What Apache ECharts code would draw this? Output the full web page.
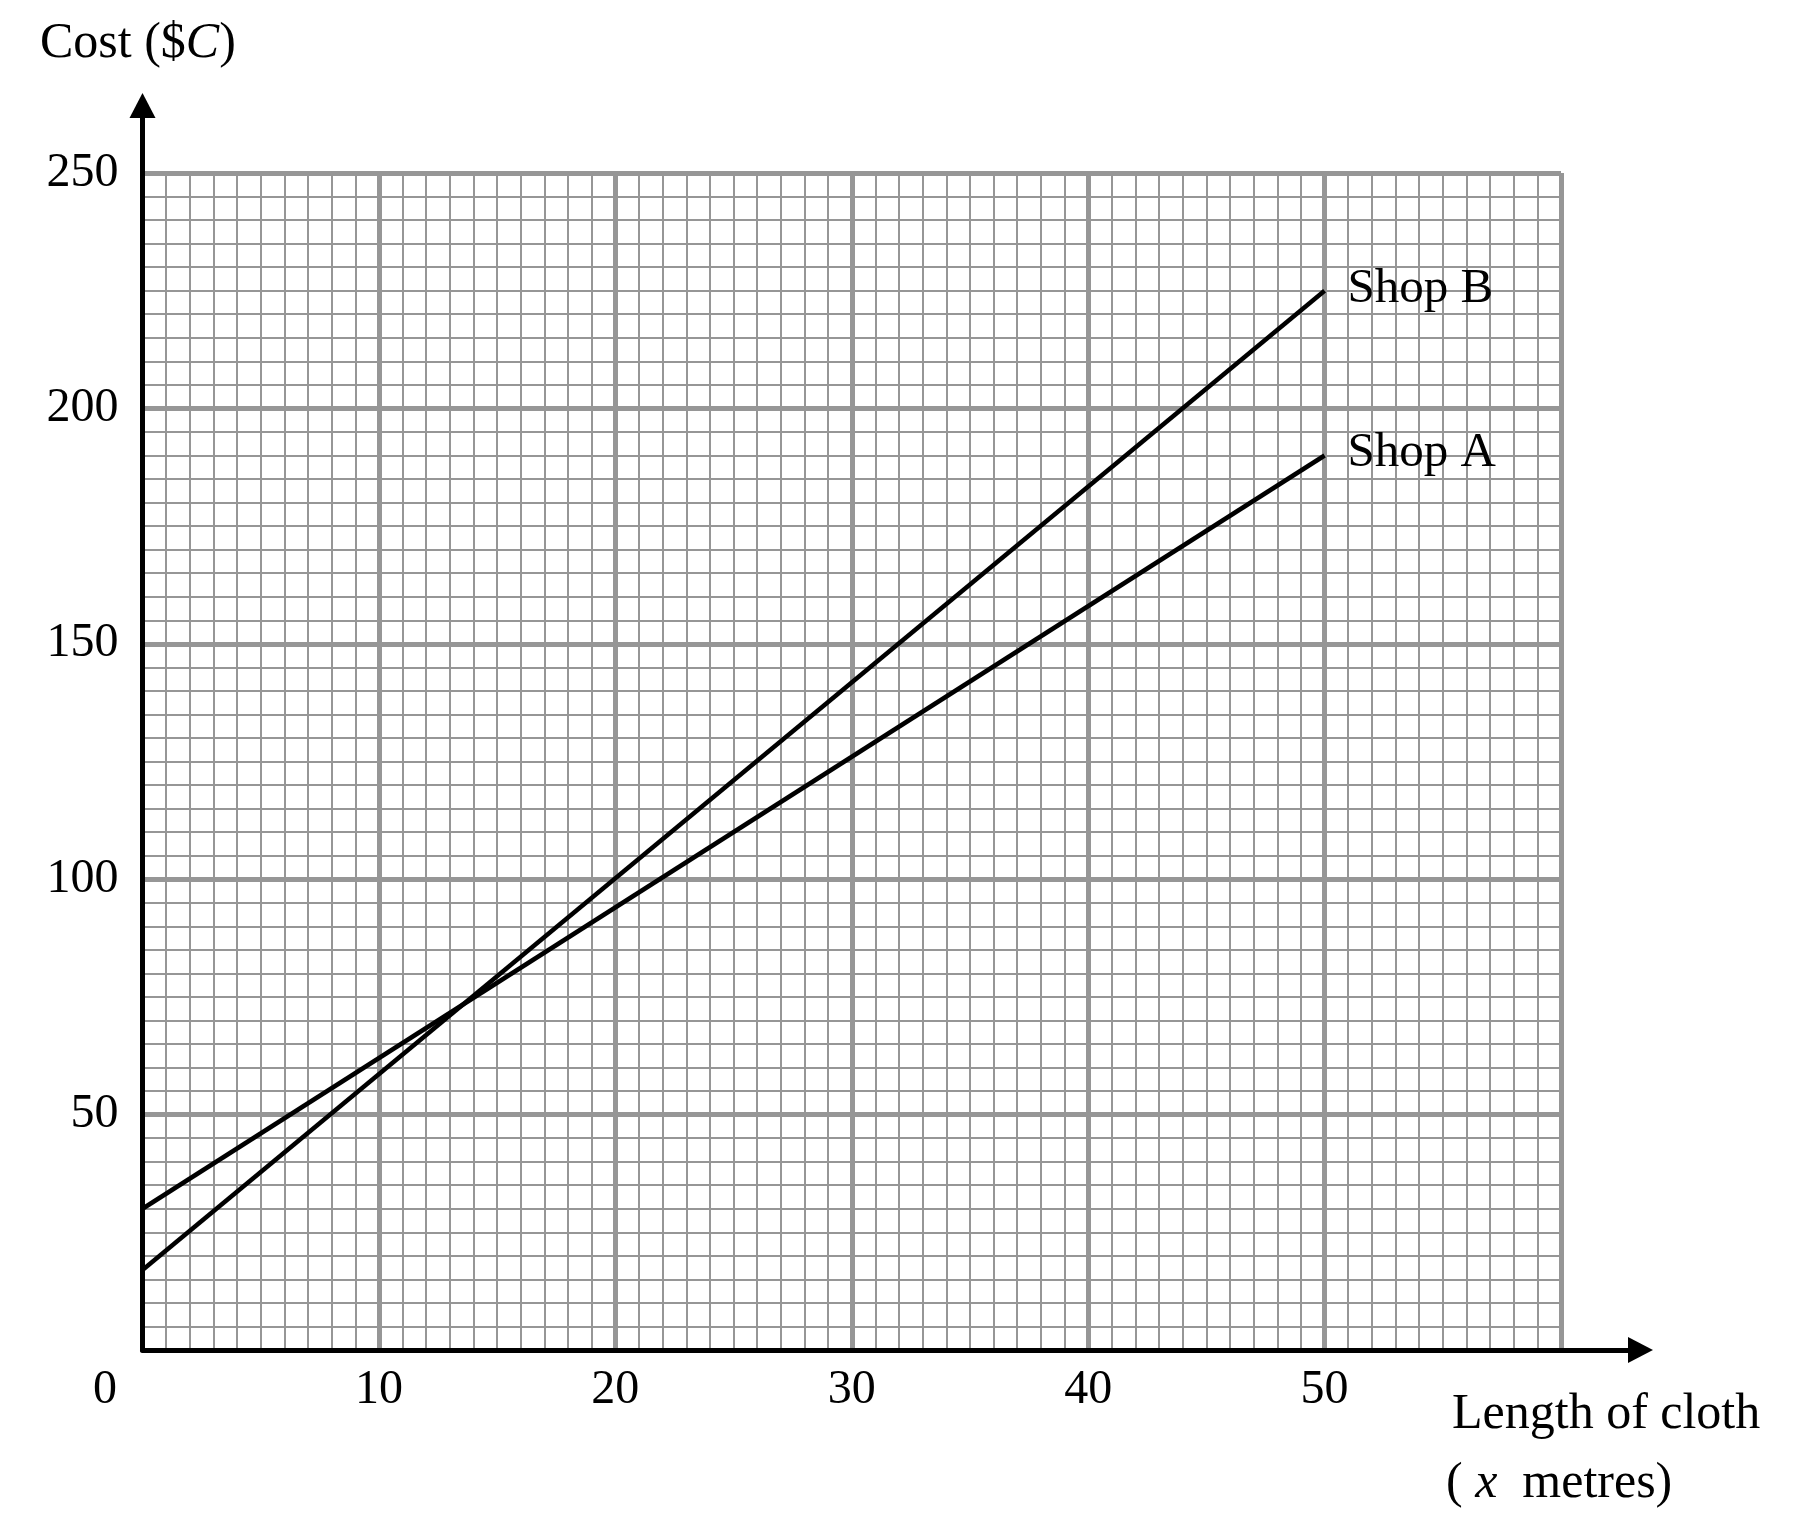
<!DOCTYPE html>
<html>
<head>
<meta charset="utf-8">
<script src="https://cdn.jsdelivr.net/npm/echarts@6/dist/echarts.min.js"></script>
<style>
html, body { margin: 0; padding: 0; background: #fff; }
#chart { width: 1799px; height: 1538px; }
</style>
</head>
<body>
<div id="chart"></div>
<script>
// length of cloth (x metres) at the two ends of each line
var lengths = [0, 50];
// cost ($C)
var shopA = [30, 190];
var shopB = [17, 225];
var xTickLabels = [10, 20, 30, 40, 50];
var yTickLabels = [50, 100, 150, 200, 250];

var font = 'Liberation Serif';
var gridGrey = '#969696';

function pairs(ys) {
    var out = [];
    for (var i = 0; i < lengths.length; i++) {
        out.push([lengths[i], ys[i]]);
    }
    return out;
}

var dom = document.getElementById('chart');
var myChart = echarts.init(dom);

var option = {
    backgroundColor: '#fff',
    animation: false,
    grid: [
        // squared paper
        { left: 142.5, right: 238, top: 173, bottom: 188 },
        // only used for the arrowed axes
        { left: 142.5, right: 158.5, top: 105.5, bottom: 188 }
    ],
    xAxis: [
        {
            type: 'value',
            gridIndex: 0,
            min: 0,
            max: 60,
            interval: 10,
            axisLine: { show: false },
            axisTick: { show: false },
            axisLabel: {
                color: '#000',
                fontFamily: font,
                fontSize: 48,
                margin: 16,
                formatter: function (v) {
                    return xTickLabels.indexOf(v) > -1 ? String(v) : '';
                }
            },
            splitLine: { show: true, lineStyle: { color: gridGrey, width: 5 } },
            minorTick: { show: false, splitNumber: 10 },
            minorSplitLine: { show: true, lineStyle: { color: gridGrey, width: 2 } }
        },
        {
            type: 'value',
            gridIndex: 1,
            min: 0,
            max: 1,
            axisLine: {
                show: true,
                symbol: ['none', 'triangle'],
                symbolSize: [26, 25],
                lineStyle: { color: '#000', width: 5 }
            },
            axisTick: { show: false },
            axisLabel: { show: false },
            splitLine: { show: false }
        }
    ],
    yAxis: [
        {
            type: 'value',
            gridIndex: 0,
            min: 0,
            max: 250,
            interval: 50,
            axisLine: { show: false },
            axisTick: { show: false },
            axisLabel: {
                color: '#000',
                fontFamily: font,
                fontSize: 48,
                margin: 24,
                formatter: function (v) {
                    return yTickLabels.indexOf(v) > -1 ? String(v) : '';
                }
            },
            splitLine: { show: true, lineStyle: { color: gridGrey, width: 5 } },
            minorTick: { show: false, splitNumber: 10 },
            minorSplitLine: { show: true, lineStyle: { color: gridGrey, width: 2 } }
        },
        {
            type: 'value',
            gridIndex: 1,
            min: 0,
            max: 1,
            axisLine: {
                show: true,
                symbol: ['none', 'triangle'],
                symbolSize: [26, 25],
                lineStyle: { color: '#000', width: 5 }
            },
            axisTick: { show: false },
            axisLabel: { show: false },
            splitLine: { show: false }
        }
    ],
    series: [
        {
            name: 'Shop A',
            type: 'line',
            xAxisIndex: 0,
            yAxisIndex: 0,
            data: pairs(shopA),
            symbol: 'none',
            lineStyle: { color: '#000', width: 4.5 },
            endLabel: {
                show: true,
                formatter: '{a}',
                color: '#000',
                fontFamily: font,
                fontSize: 49,
                distance: 23,
                offset: [0, -2]
            }
        },
        {
            name: 'Shop B',
            type: 'line',
            xAxisIndex: 0,
            yAxisIndex: 0,
            data: pairs(shopB),
            symbol: 'none',
            lineStyle: { color: '#000', width: 4.5 },
            endLabel: {
                show: true,
                formatter: '{a}',
                color: '#000',
                fontFamily: font,
                fontSize: 49,
                distance: 23,
                offset: [0, -2]
            }
        }
    ],
    graphic: [
        {
            type: 'text',
            left: 40,
            top: 19,
            style: {
                text: 'Cost ($' + '{i|C})',
                fill: '#000',
                font: '50px "Liberation Serif"',
                rich: {
                    i: { fontStyle: 'italic', fontSize: 50, fontFamily: font, fill: '#000' }
                }
            }
        },
        {
            type: 'text',
            x: 105,
            y: 1390,
            style: {
                text: '0',
                fill: '#000',
                font: '48px "Liberation Serif"',
                align: 'center',
                verticalAlign: 'middle'
            }
        },
        {
            type: 'text',
            x: 1452,
            y: 1415,
            style: {
                text: 'Length of cloth',
                fill: '#000',
                font: '50px "Liberation Serif"',
                verticalAlign: 'middle'
            }
        },
        {
            type: 'text',
            x: 1446,
            y: 1484,
            style: {
                text: '( {i|x}  metres)',
                fill: '#000',
                font: '50px "Liberation Serif"',
                verticalAlign: 'middle',
                rich: {
                    i: { fontStyle: 'italic', fontSize: 50, fontFamily: font, fill: '#000' }
                }
            }
        }
    ]
};

myChart.setOption(option);
</script>
</body>
</html>
